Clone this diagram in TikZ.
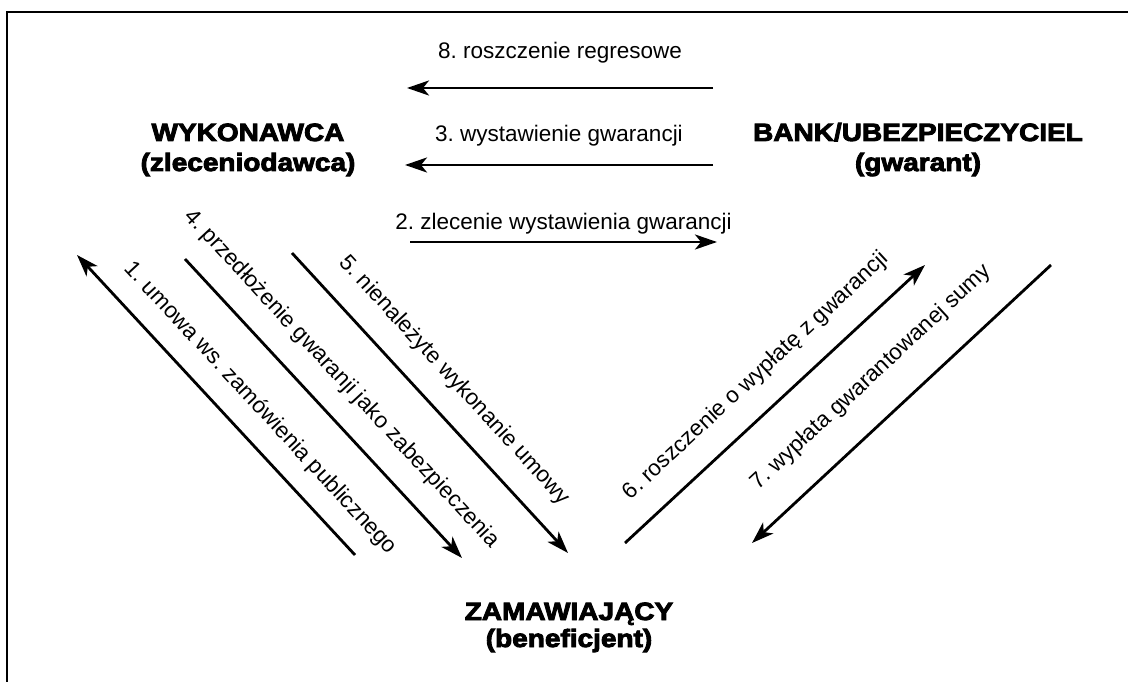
\documentclass[tikz,border=0pt]{standalone}
\usepackage{fontspec}
\setmainfont{Liberation Sans}
\newfontfamily\headfont{Liberation Sans Bold}[FakeStretch=1.12,FakeBold=3.5]
\usetikzlibrary{arrows.meta}
\frenchspacing
\begin{document}
\begin{tikzpicture}[x=1pt,y=-1pt,
  arr/.style={line width=2.8pt,-{Stealth[length=22pt,width=15pt,inset=6pt]}},
  lab/.style={font=\frenchspacing\fontsize{22.5}{27}\selectfont,inner sep=3.33pt},
  head/.style={font=\headfont\fontsize{25}{30}\selectfont,anchor=base,inner sep=0pt},
  frame/.style={line width=2.5pt}]
\useasboundingbox (0,0) rectangle (1128,682);
\draw[frame] (7,682) -- (7,12) -- (1128,12);
% parties
\node[head] (wyk) at (248,141) {WYKONAWCA};
\node[head] (wyksub) at (248,171) {(zleceniodawca)};
\node[head] (bank) at (918,141) {BANK/UBEZPIECZYCIEL};
\node[head] (banksub) at (918,171) {(gwarant)};
\node[head] (zam) at (569,620) {ZAMAWIAJĄCY};
\node[head] (zamsub) at (569,647) {(beneficjent)};
% connector ends
\coordinate (s8) at (713,88);  \coordinate (e8) at (407,88);
\coordinate (s3) at (713,165); \coordinate (e3) at (405,165);
\coordinate (s2) at (410,242); \coordinate (e2) at (717,242);
\coordinate (s1) at (355,555); \coordinate (e1) at (77,255);
\coordinate (s4) at (185,259); \coordinate (e4) at (462,558);
\coordinate (s5) at (292,253); \coordinate (e5) at (568,553);
\coordinate (s6) at (625,543); \coordinate (e6) at (925,265);
\coordinate (s7) at (1051,265); \coordinate (e7) at (752,543);
% horizontal
\draw[arr] (s8) -- node[lab,above=20pt] (l8) {8. roszczenie regresowe} (e8);
\draw[arr] (s3) -- node[lab,above=14pt] (l3) {3. wystawienie gwarancji} (e3);
\draw[arr] (s2) -- node[lab,above=3pt] (l2) {2. zlecenie wystawienia gwarancji} (e2);
% diagonal
\draw[arr] (s1) -- node[lab,sloped,above=15pt,pos=0.42] (l1) {1. umowa ws. zamówienia publicznego} (e1);
\draw[arr] (s4) -- node[lab,sloped,above=18pt,pos=0.477] (l4) {4. przedłożenie gwaranji jako zabezpieczenia} (e4);
\draw[arr] (s5) -- node[lab,sloped,above=18pt,pos=0.5] (l5) {5. nienależyte wykonanie umowy} (e5);
\draw[arr] (s6) -- node[lab,sloped,above=18pt,pos=0.513] (l6) {6. roszczenie o wypłatę z gwarancji} (e6);
\draw[arr] (s7) -- node[lab,sloped,above=25pt,pos=0.51] (l7) {7. wypłata gwarantowanej sumy} (e7);
\end{tikzpicture}
\end{document}
